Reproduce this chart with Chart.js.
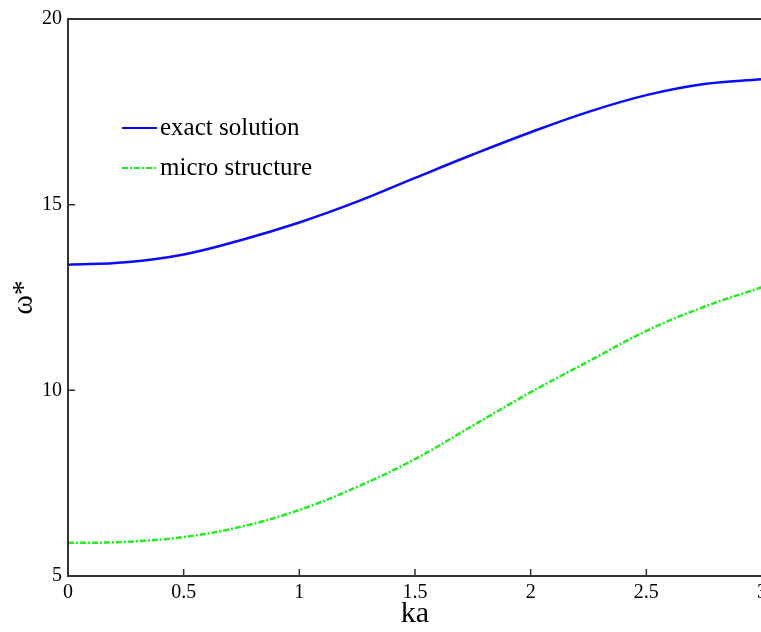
<!DOCTYPE html>
<html>
<head>
<meta charset="utf-8">
<script src="https://cdn.jsdelivr.net/npm/chart.js@4.4.1/dist/chart.umd.min.js"></script>
<style>
  html, body { margin: 0; padding: 0; background: #fff; overflow: hidden; }
  #wrap { width: 790px; height: 632px; }
</style>
</head>
<body>
<div id="wrap"><canvas id="dispChart" width="790" height="632"></canvas></div>
<script>
// values
const kaValues = [0, 0.25, 0.5, 0.75, 1, 1.25, 1.5, 1.75, 2, 2.25, 2.5, 2.75, 3];
const exactSolution = [13.38, 13.45, 13.66, 14.05, 14.52, 15.08, 15.72, 16.35, 16.95, 17.5, 17.95, 18.25, 18.38];
const microStructure = [5.89, 5.92, 6.05, 6.33, 6.78, 7.4, 8.15, 9.05, 9.95, 10.78, 11.6, 12.25, 12.78];
const xTicks = [0, 0.5, 1, 1.5, 2, 2.5, 3];
const yTicks = [5, 10, 15, 20];

const serif = '"Liberation Serif", "Times New Roman", serif';

function toPoints(ys) {
  return kaValues.map((x, i) => ({ x: x, y: ys[i] }));
}

// box, inward ticks and the legend inside the plot
const matlabFrame = {
  id: 'matlabFrame',
  afterDraw(chart) {
    const { ctx, chartArea: a, scales } = chart;
    ctx.save();
    ctx.strokeStyle = '#333';
    ctx.lineWidth = 2;
    ctx.strokeRect(a.left, a.top, a.right - a.left, a.bottom - a.top);
    ctx.lineWidth = 1.5;
    ctx.beginPath();
    xTicks.forEach(v => {
      const px = scales.x.getPixelForValue(v);
      ctx.moveTo(px, a.bottom); ctx.lineTo(px, a.bottom - 7);
    });
    yTicks.forEach(v => {
      const py = scales.y.getPixelForValue(v);
      ctx.moveTo(a.left, py); ctx.lineTo(a.left + 7, py);
    });
    ctx.stroke();

    // legend
    const items = chart.data.datasets;
    ctx.font = '25px ' + serif;
    ctx.textBaseline = 'middle';
    ctx.fillStyle = '#000';
    items.forEach((ds, i) => {
      const y = 128 + i * 40;
      ctx.strokeStyle = ds.borderColor;
      ctx.lineWidth = 2;
      ctx.setLineDash(ds.borderDash || []);
      ctx.beginPath();
      ctx.moveTo(122, y); ctx.lineTo(157, y);
      ctx.stroke();
      ctx.setLineDash([]);
      ctx.fillText(ds.label, 160, y);
    });
    ctx.restore();
  }
};

new Chart(document.getElementById('dispChart').getContext('2d'), {
  type: 'line',
  data: {
    datasets: [
      {
        label: 'exact solution',
        data: toPoints(exactSolution),
        borderColor: '#0a0aff',
        borderWidth: 2.5,
        pointRadius: 0,
        tension: 0.4
      },
      {
        label: 'micro structure',
        data: toPoints(microStructure),
        borderColor: '#1ef01e',
        borderWidth: 2.5,
        borderDash: [6, 2, 2, 2],
        pointRadius: 0,
        tension: 0.4
      }
    ]
  },
  options: {
    responsive: false,
    animation: false,
    layout: { padding: { top: 19, right: 28, left: 0, bottom: 0 } },
    plugins: { legend: { display: false }, tooltip: { enabled: false } },
    scales: {
      x: {
        type: 'linear',
        min: 0,
        max: 3,
        afterBuildTicks: s => { s.ticks = xTicks.map(v => ({ value: v })); },
        afterFit: s => { s.height = 56; },
        grid: { display: false, drawTicks: false },
        border: { display: false },
        ticks: {
          color: '#000', padding: 5, maxRotation: 0, autoSkip: false,
          font: { family: serif, size: 20 },
          callback: v => String(v)
        },
        title: { display: true, text: 'ka', color: '#000', padding: 0, font: { family: serif, size: 30 } }
      },
      y: {
        min: 5,
        max: 20,
        afterBuildTicks: s => { s.ticks = yTicks.map(v => ({ value: v })); },
        afterFit: s => { s.width = 68; },
        grid: { display: false, drawTicks: false },
        border: { display: false },
        ticks: {
          color: '#000', padding: 6, autoSkip: false,
          font: { family: serif, size: 20 },
          callback: v => String(v)
        },
        title: { display: true, text: 'ω*', color: '#000', padding: { top: 6, bottom: 0 }, font: { family: serif, size: 30 } }
      }
    }
  },
  plugins: [matlabFrame]
});
</script>
</body>
</html>
